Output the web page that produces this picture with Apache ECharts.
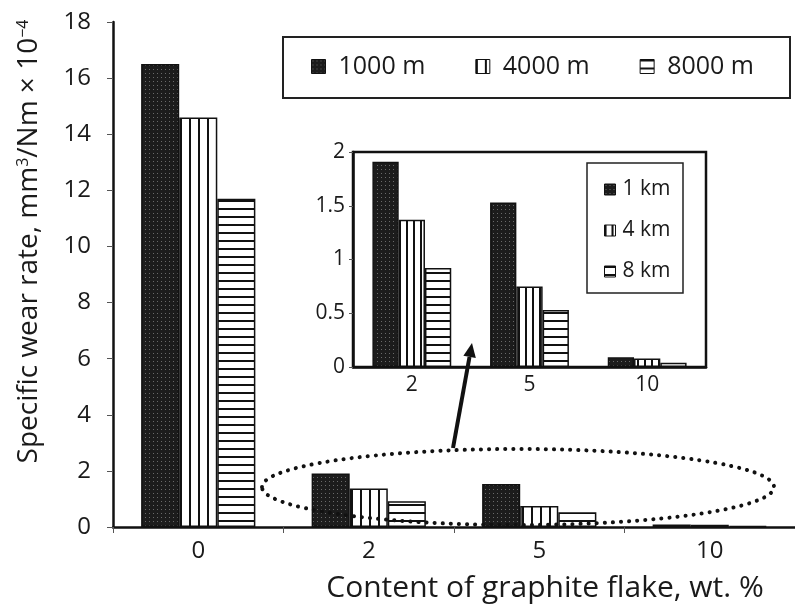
<!DOCTYPE html>
<html>
<head>
<meta charset="utf-8">
<script src="https://cdn.jsdelivr.net/npm/echarts@6/dist/echarts.min.js"></script>
<style>
  html, body { margin: 0; padding: 0; background: #fff; }
  #chart { width: 795px; height: 608px; }
</style>
</head>
<body>
<div id="chart"></div>
<script>
// graphite content (wt. %) and wear rates (mm3/Nm x 10^-4)
const categories = ['0', '2', '5', '10'];
const wear1000 = [16.5, 1.91, 1.53, 0.09];
const wear4000 = [14.6, 1.37, 0.75, 0.08];
const wear8000 = [11.7, 0.92, 0.53, 0.04];
const mainNames = ['1000 m', '4000 m', '8000 m'];
const insetNames = ['1 km', '4 km', '8 km'];
// inset shows only the graphite-containing samples
const insetCategories = categories.slice(1);

const FONT = '"Open Sans"';
const INK = '#1a1a1a';

// fill patterns for the bars
function makePattern(kind, step) {
    const c = document.createElement('canvas');
    const ctx = c.getContext('2d');
    if (kind === 'dots') {
        c.width = 4; c.height = 4;
        ctx.fillStyle = '#1c1c1c';
        ctx.fillRect(0, 0, 4, 4);
        ctx.fillStyle = '#6a6a6a';
        ctx.fillRect(1, 1, 1, 1);
    } else if (kind === 'vert') {
        c.width = step; c.height = 2;
        ctx.fillStyle = '#fff';
        ctx.fillRect(0, 0, step, 2);
        ctx.fillStyle = '#111';
        ctx.fillRect(0, 0, 2, 2);
    } else {
        c.width = 2; c.height = step;
        ctx.fillStyle = '#fff';
        ctx.fillRect(0, 0, 2, step);
        ctx.fillStyle = '#111';
        ctx.fillRect(0, 0, 2, 2);
    }
    return {image: c, repeat: 'repeat'};
}

const patMain = [makePattern('dots'), makePattern('vert', 9), makePattern('horiz', 8)];
const patInset = [makePattern('dots'), makePattern('vert', 7), makePattern('horiz', 8)];
const mainData = [wear1000, wear4000, wear8000];

const chart = echarts.init(document.getElementById('chart'), null, {renderer: 'canvas'});

const axisLine = {show: true, lineStyle: {color: '#111', width: 2.5}};

const series = [];
mainNames.forEach(function (name, i) {
    series.push({
        name: name,
        type: 'bar',
        xAxisIndex: 0,
        yAxisIndex: 0,
        data: mainData[i],
        barGap: '0%',
        barCategoryGap: '33%',
        itemStyle: {color: patMain[i], borderColor: '#111', borderWidth: 1.5},
        z: 2
    });
});
insetNames.forEach(function (name, i) {
    series.push({
        name: name,
        type: 'bar',
        xAxisIndex: 1,
        yAxisIndex: 1,
        data: mainData[i].slice(1),
        barGap: '0%',
        barCategoryGap: '33%',
        itemStyle: {color: patInset[i], borderColor: '#111', borderWidth: 1.5},
        z: 6
    });
});

const option = {
    backgroundColor: '#fff',
    animation: false,
    textStyle: {fontFamily: FONT, color: INK},
    grid: [
        {left: 113, top: 22, width: 688, height: 505},
        {left: 353, top: 152, width: 353, height: 215, show: true,
            backgroundColor: '#fff', borderColor: '#111', borderWidth: 2.5, z: 5}
    ],
    legend: [
        {
            data: mainNames,
            left: 306, top: 49,
            itemWidth: 14, itemHeight: 14, itemGap: 50,
            icon: 'rect',
            itemStyle: {borderColor: '#111', borderWidth: 1},
            textStyle: {fontFamily: FONT, fontSize: 25, color: INK, padding: [0, 0, 0, 8]}
        },
        {
            data: insetNames,
            orient: 'vertical',
            left: 599, top: 174,
            itemWidth: 11, itemHeight: 11, itemGap: 20,
            icon: 'rect',
            itemStyle: {borderColor: '#111', borderWidth: 1},
            textStyle: {fontFamily: FONT, fontSize: 21, color: INK, padding: [0, 0, 0, 2]},
            z: 8
        }
    ],
    xAxis: [
        {
            type: 'category', gridIndex: 0, data: categories,
            axisLine: axisLine,
            axisTick: {show: true, length: 6, lineStyle: {color: '#555', width: 1}},
            axisLabel: {fontSize: 24, color: INK, margin: 12, fontFamily: FONT},
            name: 'Content of graphite flake, wt. %',
            nameLocation: 'middle', nameGap: 46,
            nameTextStyle: {fontSize: 30, color: INK, fontFamily: FONT, padding: [0, 0, 0, 182]}
        },
        {
            type: 'category', gridIndex: 1, data: insetCategories,
            axisLine: axisLine,
            axisTick: {show: false},
            axisLabel: {fontSize: 21, color: INK, margin: 8, fontFamily: FONT},
            z: 7
        }
    ],
    yAxis: [
        {
            type: 'value', gridIndex: 0, min: 0, max: 18, interval: 2,
            axisLine: axisLine,
            axisTick: {show: true, length: 6, lineStyle: {color: '#555', width: 1}},
            splitLine: {show: false},
            axisLabel: {fontSize: 24, color: INK, margin: 22, fontFamily: FONT},
            name: 'Specific wear rate, mm{sup|3}/Nm × 10{sup|−4}',
            nameLocation: 'middle', nameRotate: 90, nameGap: 70,
            nameTextStyle: {
                fontSize: 28, color: INK, fontFamily: FONT, padding: [0, 0, 0, 66],
                rich: {sup: {fontSize: 16, verticalAlign: 'top', color: INK, fontFamily: FONT}}
            }
        },
        {
            type: 'value', gridIndex: 1, min: 0, max: 2, interval: 0.5,
            axisLine: axisLine,
            axisTick: {show: true, length: 4, lineStyle: {color: '#555', width: 1}},
            splitLine: {show: false},
            axisLabel: {fontSize: 21, color: INK, margin: 8, fontFamily: FONT},
            z: 7
        }
    ],
    graphic: [
        {
            type: 'rect', z: 1,
            shape: {x: 283, y: 37, width: 507, height: 61},
            style: {fill: '#fff', stroke: '#222', lineWidth: 2}
        },
        {
            type: 'rect', z: 7,
            shape: {x: 587, y: 163, width: 96, height: 130},
            style: {fill: '#fff', stroke: '#222', lineWidth: 1.5}
        },
        {
            type: 'ellipse', z: 10,
            shape: {cx: 518, cy: 487, rx: 256, ry: 38},
            style: {fill: null, stroke: '#111', lineWidth: 4, lineDash: [0.1, 8], lineCap: 'round'}
        },
        {
            type: 'line', z: 10,
            shape: {x1: 453, y1: 448, x2: 469.5, y2: 357},
            style: {stroke: '#111', lineWidth: 4}
        },
        {
            type: 'polygon', z: 10,
            shape: {points: [[472, 343], [475.8, 358], [463.4, 355.7]]},
            style: {fill: '#111'}
        }
    ],
    series: series
};

chart.setOption(option);
</script>
</body>
</html>
